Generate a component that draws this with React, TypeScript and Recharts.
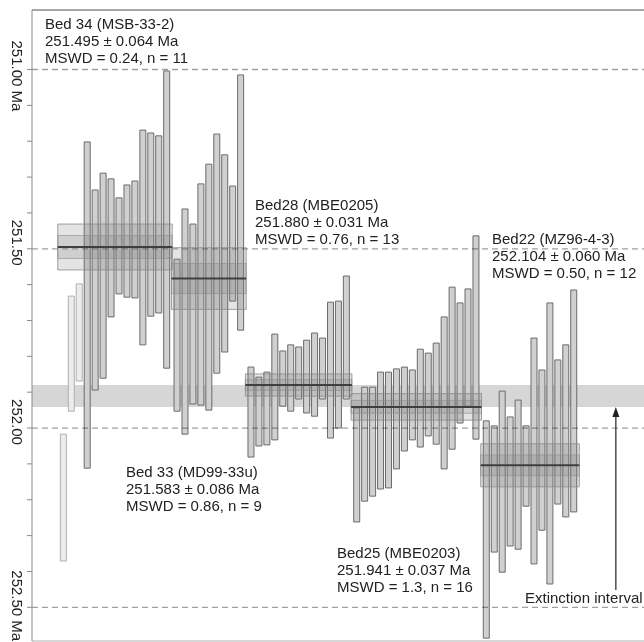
import React from "react";
import {
  ComposedChart,
  Bar,
  Cell,
  XAxis,
  YAxis,
  ReferenceArea,
  ReferenceLine,
  ReferenceDot,
} from "recharts";

const FONT = '"Liberation Sans", Arial, Helvetica, sans-serif';
const INK = "#222";

// single-zircon dates, read as young / old ends of each 2σ bar (Ma)
// plot order left to right: Bed 34, Bed 33, Bed 28, Bed 25, Bed 22
const bed34Young = [252.017, 251.632, 251.598, 251.202, 251.336, 251.289, 251.305, 251.358, 251.322, 251.311, 251.169, 251.177, 251.185, 251.004];
const bed34Old = [252.371, 251.953, 251.869, 252.112, 251.894, 251.861, 251.69, 251.626, 251.635, 251.637, 251.768, 251.688, 251.679, 251.833];
const bed34Excluded = [true, true, true, false, false, false, false, false, false, false, false, false, false, false];

const bed33Young = [251.529, 251.389, 251.431, 251.319, 251.264, 251.18, 251.238, 251.325, 251.015];
const bed33Old = [251.953, 252.017, 251.933, 251.936, 251.95, 251.847, 251.788, 251.646, 251.727];

const bed28Young = [251.83, 251.858, 251.844, 251.738, 251.785, 251.768, 251.774, 251.755, 251.735, 251.749, 251.649, 251.646, 251.576];
const bed28Old = [252.081, 252.05, 252.047, 252.033, 251.939, 251.953, 251.919, 251.958, 251.967, 251.919, 252.028, 252.0, 251.919];

const bed25Young = [251.944, 251.886, 251.886, 251.844, 251.844, 251.835, 251.83, 251.838, 251.78, 251.791, 251.763, 251.69, 251.607, 251.651, 251.612, 251.464];
const bed25Old = [252.262, 252.204, 252.19, 252.17, 252.167, 252.114, 252.064, 252.033, 252.053, 252.022, 252.045, 252.114, 252.059, 251.986, 251.939, 252.031];

const bed22Young = [251.98, 251.994, 251.897, 251.969, 251.922, 251.994, 251.749, 251.838, 251.651, 251.81, 251.768, 251.615];
const bed22Old = [252.586, 252.346, 252.402, 252.329, 252.338, 252.218, 252.379, 252.285, 252.435, 252.212, 252.248, 252.234];

// weighted means
const bedNames = ["Bed 34 (MSB-33-2)", "Bed 33 (MD99-33u)", "Bed28 (MBE0205)", "Bed25 (MBE0203)", "Bed22 (MZ96-4-3)"];
const bedMeans = [251.495, 251.583, 251.88, 251.941, 252.104];
const bedErr = [0.064, 0.086, 0.031, 0.037, 0.06];
const bedInnerErr = [0.032, 0.042, 0.015, 0.018, 0.029];
const bedMswd = ["0.24", "0.86", "0.76", "1.3", "0.50"];

// label anchor (left, first baseline) in px
const labelPos = [
  [45, 29],
  [126, 477],
  [255, 210],
  [337, 558],
  [492, 244],
];

const Y_TICKS = [251.0, 251.1, 251.2, 251.3, 251.4, 251.5, 251.6, 251.7, 251.8, 251.9, 252.0, 252.1, 252.2, 252.3, 252.4, 252.5];
const Y_LABEL_VALUES = [251.0, 251.5, 252.0, 252.5];
const Y_LABELS = ["251.00 Ma", "251.50", "252.00", "252.50 Ma"];

const Y_DOMAIN: [number, number] = [250.834, 252.594];
const X_DOMAIN: [number, number] = [-3.94, 73.04];
const GROUP_GAP = 0.3;
const BOX_PAD = 0.7;
const ARROW_X = 69.5;
const ARROW_TAIL = 252.452;

const beds = [
  { young: bed34Young, old: bed34Old, excluded: bed34Excluded },
  { young: bed33Young, old: bed33Old, excluded: [] as boolean[] },
  { young: bed28Young, old: bed28Old, excluded: [] as boolean[] },
  { young: bed25Young, old: bed25Old, excluded: [] as boolean[] },
  { young: bed22Young, old: bed22Old, excluded: [] as boolean[] },
];

const rows: { x: number; range: [number, number]; excluded: boolean }[] = [];
const spans: [number, number][] = [];
let idx = 0;
beds.forEach((b, g) => {
  const start = idx + g * GROUP_GAP;
  b.young.forEach((y, k) => {
    rows.push({ x: idx + g * GROUP_GAP, range: [b.old[k], y], excluded: !!b.excluded[k] });
    idx++;
  });
  spans.push([start, idx - 1 + g * GROUP_GAP]);
});
const bedCounts = beds.map((b) => b.young.filter((_, k) => !b.excluded[k]).length);

function AgeTick(props: any) {
  const { x, y, payload } = props;
  const i = Y_LABEL_VALUES.findIndex((v) => Math.abs(v - payload.value) < 1e-6);
  if (i < 0) return <g />;
  const bx = x - 13;
  // last label would run off the bottom edge, nudge it up a little
  const by = i === Y_LABELS.length - 1 ? y - 37 : y - 29;
  return (
    <text x={bx} y={by} transform={`rotate(90, ${bx}, ${by})`} fontSize={15} fill={INK} fontFamily={FONT}>
      {Y_LABELS[i]}
    </text>
  );
}

function ArrowHead(props: any) {
  const { cx, cy } = props;
  return <polygon points={`${cx},${cy} ${cx - 3.5},${cy + 10} ${cx + 3.5},${cy + 10}`} fill={INK} />;
}

export default function App() {
  return (
    <div style={{ position: "absolute", left: 0, top: 0, width: 644, height: 642 }}>
      <ComposedChart width={644} height={642} data={rows} margin={{ top: 10, right: 0, bottom: 1, left: 0 }}>
        <XAxis type="number" dataKey="x" domain={X_DOMAIN} allowDataOverflow hide />
        <YAxis
          type="number"
          domain={Y_DOMAIN}
          allowDataOverflow
          reversed
          ticks={Y_TICKS}
          interval={0}
          width={32}
          tickSize={5}
          tick={<AgeTick />}
          axisLine={{ stroke: "#8a8a8a" }}
          tickLine={{ stroke: "#8a8a8a" }}
        />
        {/* extinction interval band */}
        <ReferenceArea
          y1={bedMeans[2]}
          y2={bedMeans[3]}
          fill="#d6d6d6"
          fillOpacity={1}
          stroke="none"
          zIndex={50}
        />
        <Bar dataKey="range" barSize={6} fill="#d0d0d0" stroke="#6b6b6b" strokeWidth={1} isAnimationActive={false} zIndex={300}>
          {rows.map((r, i) => (
            <Cell key={i} fill={r.excluded ? "#ececec" : "#d0d0d0"} stroke={r.excluded ? "#b0b0b0" : "#6b6b6b"} />
          ))}
        </Bar>
        {Y_LABEL_VALUES.map((v) => (
          <ReferenceLine
            key={"g" + v}
            y={v}
            stroke="#a0a0a0"
            strokeWidth={1.3}
            strokeDasharray="6 4"
            style={{ mixBlendMode: "multiply" }}
            zIndex={320}
          />
        ))}
        <ReferenceLine y={Y_DOMAIN[0]} stroke="#8a8a8a" strokeWidth={1.5} zIndex={330} />
        <ReferenceLine y={Y_DOMAIN[1]} stroke="#b0b0b0" strokeWidth={1} zIndex={330} />
        {spans.map(([a, b], g) => (
          <ReferenceArea
            key={"o" + g}
            x1={a - BOX_PAD}
            x2={b + BOX_PAD}
            y1={bedMeans[g] - bedErr[g]}
            y2={bedMeans[g] + bedErr[g]}
            fill="#7a7a7a"
            fillOpacity={0.2}
            stroke="#8a8a8a"
            strokeOpacity={0.8}
            zIndex={340}
          />
        ))}
        {spans.map(([a, b], g) => (
          <ReferenceArea
            key={"i" + g}
            x1={a - BOX_PAD}
            x2={b + BOX_PAD}
            y1={bedMeans[g] - bedInnerErr[g]}
            y2={bedMeans[g] + bedInnerErr[g]}
            fill="#7a7a7a"
            fillOpacity={0.2}
            stroke="#8a8a8a"
            strokeOpacity={0.6}
            zIndex={341}
          />
        ))}
        {spans.map(([a, b], g) => (
          <ReferenceLine
            key={"m" + g}
            segment={[
              { x: a - BOX_PAD, y: bedMeans[g] },
              { x: b + BOX_PAD, y: bedMeans[g] },
            ]}
            stroke="#3f3f3f"
            strokeWidth={2}
            zIndex={350}
          />
        ))}
        <ReferenceLine
          segment={[
            { x: ARROW_X, y: bedMeans[3] + 0.02 },
            { x: ARROW_X, y: ARROW_TAIL },
          ]}
          stroke={INK}
          strokeWidth={1.2}
          zIndex={360}
        />
        <ReferenceDot x={ARROW_X} y={bedMeans[3]} r={0} shape={<ArrowHead />} zIndex={360} />
      </ComposedChart>
      <svg
        width={644}
        height={642}
        style={{ position: "absolute", left: 0, top: 0, pointerEvents: "none" }}
        fontFamily={FONT}
        fontSize={15}
        fill={INK}
      >
        {bedNames.map((name, g) => {
          const [lx, ly] = labelPos[g];
          return (
            <text key={name} x={lx} y={ly}>
              <tspan x={lx} y={ly}>{name}</tspan>
              <tspan x={lx} y={ly + 17}>{`${bedMeans[g].toFixed(3)} ± ${bedErr[g].toFixed(3)} Ma`}</tspan>
              <tspan x={lx} y={ly + 34}>{`MSWD = ${bedMswd[g]}, n = ${bedCounts[g]}`}</tspan>
            </text>
          );
        })}
        <text x={525} y={603}>Extinction interval</text>
      </svg>
    </div>
  );
}
